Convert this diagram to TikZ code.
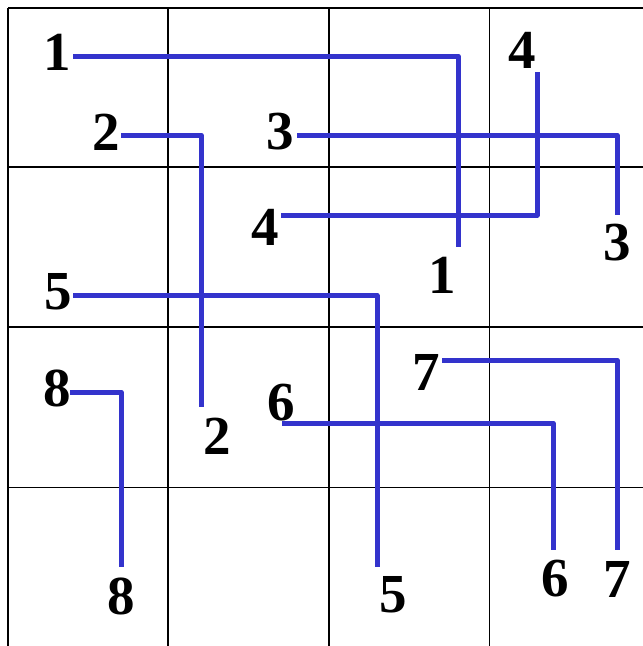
\documentclass[tikz,border=0pt]{standalone}
\usepackage{fontspec}
\setmainfont{Liberation Serif}
\usepackage{tikz}
\usetikzlibrary{
  positioning,
  calc
}
\definecolor{WireBlue}{RGB}{51,51,204}
\definecolor{GridBlack}{RGB}{0,0,0}
\tikzset{
  num/.style={inner sep=0pt,outer sep=0pt,font=\bfseries\fontsize{55}{60}\selectfont,text=black},
  wire/.style={draw=WireBlue,line width=5pt,line join=round},
  gridline/.style={draw=GridBlack,line width=1.8pt}
}

\begin{document}
\begin{tikzpicture}[x=1pt,y=-1pt]
\useasboundingbox (0,0) rectangle (643,646);

\foreach \gx in {8,168.3,329,489.5} {
  \draw[gridline] (\gx,8) -- (\gx,646);
}
\foreach \gy in {8,167,327,487.5} {
  \draw[gridline] (8,\gy) -- (643,\gy);
}

\coordinate (a1) at (73,56);    \coordinate (b1) at (458,247);
\coordinate (a2) at (121,135);  \coordinate (b2) at (201,407);
\coordinate (a3) at (297,135);  \coordinate (b3) at (617,215);
\coordinate (a4) at (281,215);  \coordinate (b4) at (537,72);
\coordinate (a5) at (73,295.5); \coordinate (b5) at (377,567);
\coordinate (a6) at (282,423);  \coordinate (b6) at (553,550);
\coordinate (a7) at (442,360);  \coordinate (b7) at (617,550);
\coordinate (a8) at (70,392);   \coordinate (b8) at (121,567);

\node[num] (n1a) at (57,52) {1};
\node[num] (n1b) at (442,275) {1};
\node[num] (n2a) at (106,132) {2};
\node[num] (n2b) at (217,436) {2};
\node[num] (n3a) at (280,132) {3};
\node[num] (n3b) at (617,243) {3};
\node[num] (n4a) at (265,227) {4};
\node[num] (n4b) at (522,50) {4};
\node[num] (n5a) at (58,292) {5};
\node[num] (n5b) at (393,595) {5};
\node[num] (n6a) at (281.5,402.5) {6};
\node[num] (n6b) at (555,579) {6};
\node[num] (n7a) at (426,372) {7};
\node[num] (n7b) at (617,579) {7};
\node[num] (n8a) at (57.5,388) {8};
\node[num] (n8b) at (121,596) {8};

\foreach \k in {1,...,8} {
  \draw[wire] (a\k) -| (b\k);
}
\end{tikzpicture}
\end{document}
